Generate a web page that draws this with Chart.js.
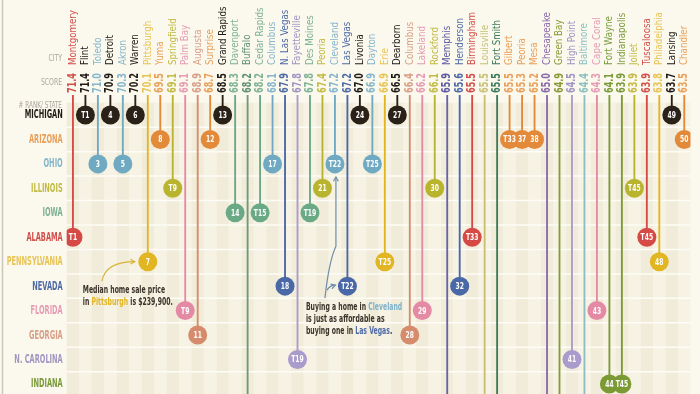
<!DOCTYPE html>
<html lang="en">
<head>
<meta charset="UTF-8">
<title>Most affordable cities to buy a home</title>
<script src="https://cdn.jsdelivr.net/npm/chart.js"></script>
<style>
  html, body { margin: 0; padding: 0; background: #fbf8ee; overflow: hidden; }
  #wrap { width: 700px; height: 580px; }
</style>
</head>
<body>
<div id="wrap"><canvas id="chart" width="700" height="580"></canvas></div>
<script>
// ---- data ----
const cities = ['Montgomery', 'Flint', 'Toledo', 'Detroit', 'Akron', 'Warren', 'Pittsburgh', 'Yuma', 'Springfield', 'Palm Bay',
  'Augusta', 'Surprise', 'Grand Rapids', 'Davenport', 'Buffalo', 'Cedar Rapids', 'Columbus', 'N. Las Vegas', 'Fayetteville', 'Des Moines',
  'Peoria', 'Cleveland', 'Las Vegas', 'Livonia', 'Dayton', 'Erie', 'Dearborn', 'Columbus', 'Lakeland', 'Rockford',
  'Memphis', 'Henderson', 'Birmingham', 'Louisville', 'Fort Smith', 'Gilbert', 'Peoria', 'Mesa', 'Chesapeake', 'Green Bay',
  'High Point', 'Baltimore', 'Cape Coral', 'Fort Wayne', 'Indianapolis', 'Joliet', 'Tuscaloosa', 'Philadelphia', 'Lansing', 'Chandler'];

const scores = [71.4, 71.4, 71.0, 70.9, 70.3, 70.2, 70.1, 69.5, 69.1, 69.1,
  68.9, 68.7, 68.5, 68.3, 68.2, 68.2, 68.1, 67.9, 67.8, 67.8,
  67.4, 67.2, 67.2, 67.0, 66.9, 66.9, 66.5, 66.4, 66.2, 66.1,
  65.9, 65.6, 65.5, 65.5, 65.5, 65.5, 65.3, 65.2, 65.0, 64.9,
  64.5, 64.4, 64.3, 64.1, 63.9, 63.9, 63.9, 63.8, 63.7, 63.5];

const ranks = ['T1', 'T1', '3', '4', '5', '6', '7', '8', 'T9', 'T9',
  '11', '12', '13', '14', 'T15', 'T15', '17', '18', 'T19', 'T19',
  '21', 'T22', 'T22', '24', 'T25', 'T25', '27', '28', '29', '30',
  '31', '32', 'T33', 'T33', 'T33', 'T33', '37', '38', '39', '40',
  '41', '42', '43', '44', 'T45', 'T45', 'T45', '48', '49', '50'];

const cityStates = ['ALABAMA', 'MICHIGAN', 'OHIO', 'MICHIGAN', 'OHIO', 'MICHIGAN', 'PENNSYLVANIA', 'ARIZONA', 'ILLINOIS', 'FLORIDA',
  'GEORGIA', 'ARIZONA', 'MICHIGAN', 'IOWA', 'NEW YORK', 'IOWA', 'OHIO', 'NEVADA', 'N. CAROLINA', 'IOWA',
  'ILLINOIS', 'OHIO', 'NEVADA', 'MICHIGAN', 'OHIO', 'PENNSYLVANIA', 'MICHIGAN', 'GEORGIA', 'FLORIDA', 'ILLINOIS',
  'TENNESSEE', 'NEVADA', 'ALABAMA', 'KENTUCKY', 'ARKANSAS', 'ARIZONA', 'ARIZONA', 'ARIZONA', 'VIRGINIA', 'WISCONSIN',
  'N. CAROLINA', 'MARYLAND', 'FLORIDA', 'INDIANA', 'INDIANA', 'ILLINOIS', 'ALABAMA', 'PENNSYLVANIA', 'MICHIGAN', 'ARIZONA'];

const states = ['MICHIGAN', 'ARIZONA', 'OHIO', 'ILLINOIS', 'IOWA', 'ALABAMA', 'PENNSYLVANIA', 'NEVADA', 'FLORIDA', 'GEORGIA',
  'N. CAROLINA', 'INDIANA', 'NEW YORK', 'TENNESSEE', 'KENTUCKY', 'ARKANSAS', 'VIRGINIA', 'WISCONSIN', 'MARYLAND'];

const stateColors = ['#2a2119', '#e3893a', '#6fa9c2', '#b9b42e', '#6aa985', '#d64a45', '#e2b523', '#4b68a6', '#e48aa5', '#d68c6c',
  '#a99bcc', '#7b9a34', '#6d9a78', '#6a62a8', '#c8c070', '#3e7a5a', '#8a6aa8', '#8a9a3a', '#8cc0c0'];

const stateTextColors = ['#1f1a14', '#e9a05a', '#86b6cb', '#c2bb45', '#7eb394', '#d2504b', '#e8c456', '#4f6ba6', '#e69cb2', '#d89f86',
  '#9f96c2', '#7a9a3a', '#5f9270', '#5e58a0', '#c6c27a', '#3e7a5a', '#8a6aa8', '#8a9a3a', '#8cc0c0'];

// ---- helpers ----
const FONT = '"DejaVu Sans Condensed", "Liberation Sans Narrow", sans-serif';
const rowOf = i => states.indexOf(cityStates[i]);
const STEM_TOP = -0.8;

const bubbleData = cities.map((c, i) => ({ x: i, y: rowOf(i) }));
const stemData = cities.map((c, i) => ({ x: i, y: [STEM_TOP, rowOf(i)] }));
const cityColors = cities.map((c, i) => stateColors[rowOf(i)]);

// squeeze factor so that `sample` is `width` px wide in the current font
const squeezeFor = (ctx, sample, width) => width / ctx.measureText(sample).width;

function squeezed(ctx, text, x, y, sx) {
    ctx.save();
    ctx.translate(x, y);
    ctx.scale(sx, 1);
    ctx.fillText(text, 0, 0);
    ctx.restore();
}

function richLine(ctx, parts, x, y, sx) {
    parts.forEach(p => {
        ctx.fillStyle = p[1];
        squeezed(ctx, p[0], x, y, sx);
        x += ctx.measureText(p[0]).width * sx;
    });
}

function arrowHead(ctx, x, y, angle) {
    ctx.beginPath();
    ctx.moveTo(x - 5 * Math.cos(angle - 0.5), y - 5 * Math.sin(angle - 0.5));
    ctx.lineTo(x, y);
    ctx.lineTo(x - 5 * Math.cos(angle + 0.5), y - 5 * Math.sin(angle + 0.5));
    ctx.stroke();
}

// background: bands and row lines
const backdrop = {
    id: 'backdrop',
    beforeDraw(chart) {
        const { ctx, chartArea: a, scales: { x, y } } = chart;
        ctx.save();
        ctx.fillStyle = '#fbf8ee';
        ctx.fillRect(0, 0, chart.width, chart.height);
        const top = y.getPixelForValue(-0.5);
        cities.forEach((c, i) => {
            const l = x.getPixelForValue(i - 0.5), r = x.getPixelForValue(i + 0.5);
            ctx.fillStyle = i % 2 ? '#f6f2e4' : '#f1ecda';
            ctx.fillRect(l, top, r - l, a.bottom - top);
        });
        ctx.strokeStyle = '#fdfcf6';
        ctx.lineWidth = 1.5;
        for (let k = 0; k < states.length; k++) {
            const py = y.getPixelForValue(k + 0.5);
            ctx.beginPath(); ctx.moveTo(a.left, py); ctx.lineTo(a.right, py); ctx.stroke();
        }
        ctx.strokeStyle = '#c9c5b9';
        ctx.lineWidth = 1.5;
        ctx.beginPath(); ctx.moveTo(2.5, 0); ctx.lineTo(2.5, chart.height); ctx.stroke();
        ctx.restore();
    }
};

// header (city names + scores), state labels, rank labels, notes
const overlay = {
    id: 'overlay',
    afterDatasetsDraw(chart) {
        const { ctx, chartArea: a, scales: { x, y } } = chart;
        ctx.save();

        // rank inside each bubble
        const meta = chart.getDatasetMeta(0);
        ctx.fillStyle = '#ffffff';
        ctx.font = 'bold 9.5px ' + FONT;
        ctx.textAlign = 'center';
        ctx.textBaseline = 'middle';
        const rankSx = squeezeFor(ctx, 'T33', 12.5);
        meta.data.forEach((pt, i) => squeezed(ctx, ranks[i], pt.x, pt.y + 0.5, rankSx));

        // state labels (row names)
        ctx.textAlign = 'right';
        ctx.font = 'bold 11.5px ' + FONT;
        const stSx = squeezeFor(ctx, 'PENNSYLVANIA', 56);
        states.forEach((s, k) => {
            ctx.fillStyle = stateTextColors[k];
            squeezed(ctx, s, a.left - 4, y.getPixelForValue(k) + 0.5, stSx);
        });

        // column headers
        ctx.font = '11px ' + FONT;
        const nameSx = squeezeFor(ctx, 'Montgomery', 55);
        ctx.font = 'bold 12px ' + FONT;
        const scoreSx = squeezeFor(ctx, '71.4', 20);
        cities.forEach((c, i) => {
            const px = x.getPixelForValue(i);
            ctx.save();
            ctx.translate(px, 65);
            ctx.rotate(-Math.PI / 2);
            ctx.fillStyle = stateTextColors[rowOf(i)];
            ctx.textBaseline = 'middle';
            ctx.textAlign = 'left';
            ctx.font = '11px ' + FONT;
            squeezed(ctx, c, 0, 0, nameSx);
            ctx.textAlign = 'center';
            ctx.font = 'bold 12px ' + FONT;
            squeezed(ctx, scores[i].toFixed(1), -18, 0, scoreSx);
            ctx.restore();
        });

        ctx.textAlign = 'right';
        ctx.textBaseline = 'middle';
        ctx.fillStyle = '#aaa69c';
        ctx.font = '8px ' + FONT;
        squeezed(ctx, 'CITY', 62, 59, 0.85);
        squeezed(ctx, 'SCORE', 62, 83, 0.85);
        squeezed(ctx, '# RANK/ STATE', 62, 106, 0.8);

        // note: Pittsburgh
        const x6 = x.getPixelForValue(6), yPa = y.getPixelForValue(6), yNv = y.getPixelForValue(7);
        ctx.textAlign = 'left';
        ctx.font = 'bold 11px ' + FONT;
        const noteSx = squeezeFor(ctx, 'in Pittsburgh is $239,900.', 90);
        richLine(ctx, [['Median home sale price', '#3a3229']], x6 - 65, yNv + 4, noteSx);
        richLine(ctx, [['in ', '#3a3229'], ['Pittsburgh', '#e2b523'], [' is $239,900.', '#3a3229']], x6 - 65, yNv + 16, noteSx);
        ctx.strokeStyle = '#d9b53a';
        ctx.lineWidth = 1.2;
        ctx.beginPath();
        ctx.moveTo(x6 - 46, yNv - 5);
        ctx.quadraticCurveTo(x6 - 42, yPa, x6 - 13, yPa);
        ctx.stroke();
        arrowHead(ctx, x6 - 13, yPa, 0);

        // note: Cleveland / Las Vegas
        const x21 = x.getPixelForValue(21), x22 = x.getPixelForValue(22);
        const yOh = y.getPixelForValue(2), yFl = y.getPixelForValue(8);
        richLine(ctx, [['Buying a home in ', '#3a3229'], ['Cleveland', '#7fb2c8']], x21 - 29, yFl - 3, noteSx);
        richLine(ctx, [['is just as affordable as', '#3a3229']], x21 - 29, yFl + 9, noteSx);
        richLine(ctx, [['buying one in ', '#3a3229'], ['Las Vegas', '#4f6ba6'], ['.', '#3a3229']], x21 - 29, yFl + 21, noteSx);
        ctx.strokeStyle = '#6f8ea8';
        ctx.beginPath();
        ctx.moveTo(x21 - 10, yNv + 12);
        ctx.quadraticCurveTo(x21 - 6, yNv - 25, x21 + 1, yNv - 40);
        ctx.lineTo(x21 + 1, yOh + 13);
        ctx.stroke();
        arrowHead(ctx, x21 + 1, yOh + 13, -Math.PI / 2);
        ctx.beginPath();
        ctx.moveTo(x21 - 8, yNv + 4);
        ctx.quadraticCurveTo(x21 - 5, yNv - 1, x22 - 12, yNv - 1);
        ctx.stroke();
        arrowHead(ctx, x22 - 12, yNv - 1, -0.3);

        ctx.restore();
    }
};

new Chart(document.getElementById('chart'), {
    type: 'bar',
    data: {
        datasets: [
            {
                type: 'scatter',
                data: bubbleData,
                pointRadius: 9.5,
                pointHoverRadius: 9.5,
                pointBackgroundColor: cityColors,
                pointBorderWidth: 0,
                order: 0
            },
            {
                type: 'bar',
                data: stemData,
                backgroundColor: cityColors,
                borderWidth: 0,
                barThickness: 1.2,
                order: 1
            }
        ]
    },
    options: {
        responsive: false,
        animation: false,
        events: [],
        layout: { padding: { top: 94.2, bottom: 12.7, left: 66.7, right: 6.7 } },
        plugins: { legend: { display: false }, tooltip: { enabled: false } },
        scales: {
            x: { type: 'linear', min: -0.5, max: 49.5, offset: false, display: false },
            y: { type: 'linear', reverse: true, min: STEM_TOP - 0.05, max: states.length - 0.5, display: false }
        }
    },
    plugins: [backdrop, overlay]
});
</script>
</body>
</html>
